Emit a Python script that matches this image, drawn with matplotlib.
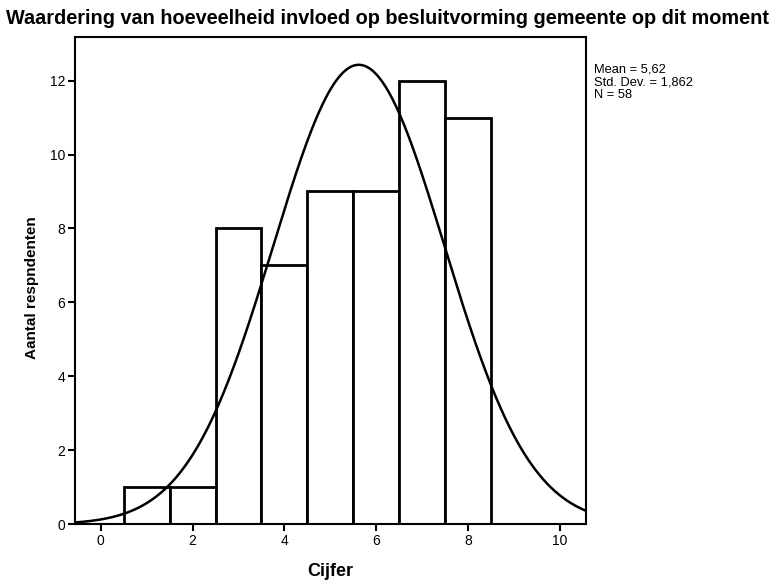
import numpy as np
import matplotlib
matplotlib.use("Agg")
import matplotlib.pyplot as plt

# Data
categories = [1, 2, 3, 4, 5, 6, 7, 8]
counts = [1, 1, 8, 7, 9, 9, 12, 11]
mean_val = 5.62
std_val = 1.862
n_val = 58
xticks = [0, 2, 4, 6, 8, 10]
yticks = [0, 2, 4, 6, 8, 10, 12]

plt.rcParams['font.family'] = ['Liberation Sans', 'DejaVu Sans']

fig = plt.figure(figsize=(7.74, 5.81), dpi=100)
ax = fig.add_axes([75 / 774, 1 - 524.3 / 581, (585.7 - 75) / 774, (524.3 - 37.3) / 581])

ax.bar(categories, counts, width=1.0, facecolor='white', edgecolor='black', linewidth=2.0, zorder=2)

xs = np.linspace(-0.56, 10.56, 400)
ys = n_val * 1.0 / (std_val * np.sqrt(2 * np.pi)) * np.exp(-0.5 * ((xs - mean_val) / std_val) ** 2)
ax.plot(xs, ys, color='black', linewidth=1.8, zorder=3)

ax.set_xlim(-0.56, 10.56)
ax.set_ylim(0, 13.17)
ax.set_xticks(xticks)
ax.set_yticks(yticks)
ax.tick_params(axis='both', direction='out', length=5, width=1.5, labelsize=10, pad=2)
for s in ax.spines.values():
    s.set_linewidth(1.5)

fig.text(330 / 774, 1 - 571 / 581, 'Cijfer', ha='center', va='center',
         fontsize=13, fontweight='bold')
fig.text(32 / 774, 1 - 287.5 / 581, 'Aantal respndenten', ha='center', va='center',
         rotation=90, fontsize=11, fontweight='bold')

fig.text(0.5, 1 - 18 / 581, 'Waardering van hoeveelheid invloed op besluitvorming gemeente op dit moment',
         ha='center', va='center', fontsize=14.3, fontweight='bold')

fig.text(594 / 774, 1 - 64 / 581,
         'Mean = 5,62\nStd. Dev. = 1,862\nN = 58',
         ha='left', va='top', fontsize=9.3, linespacing=1.08)

fig.savefig('out.png', dpi=100)
